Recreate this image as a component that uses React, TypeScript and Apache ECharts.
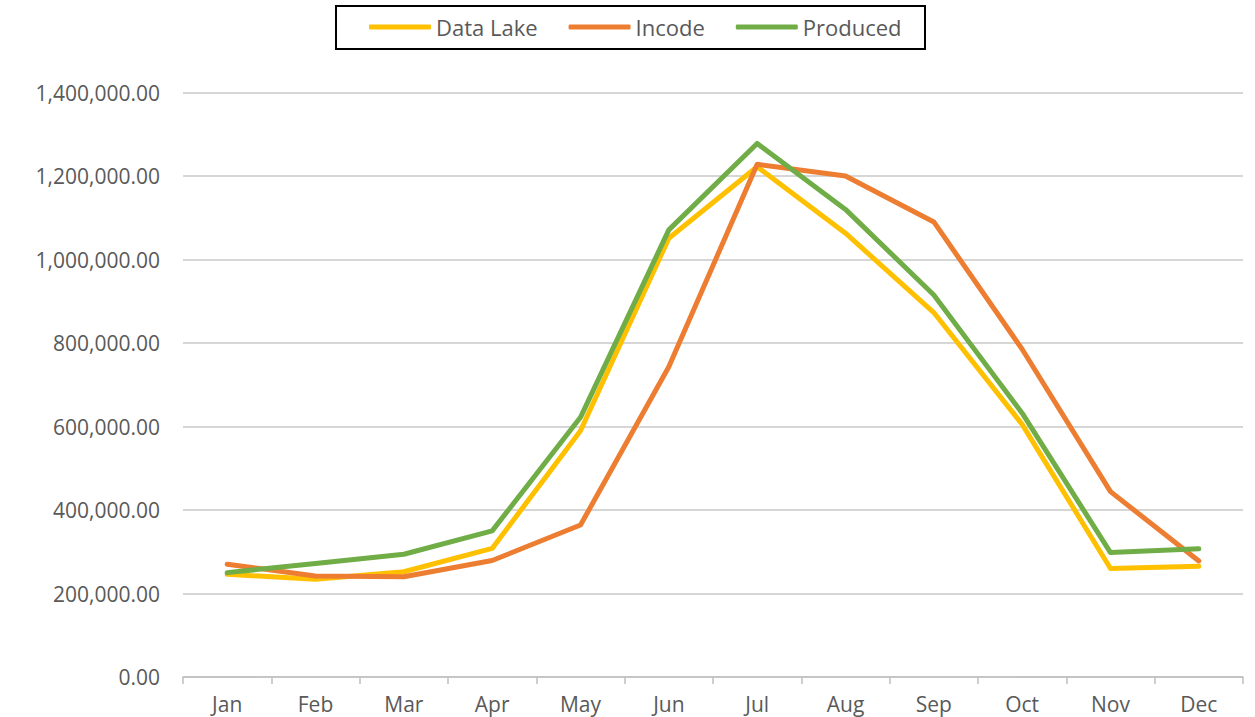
import React, { useEffect, useRef } from "react";
import * as echarts from "echarts";

const categories = ["Jan", "Feb", "Mar", "Apr", "May", "Jun", "Jul", "Aug", "Sep", "Oct", "Nov", "Dec"];
const dataLake = [246000, 234000, 252000, 308000, 590000, 1051000, 1222000, 1063000, 873000, 605000, 260000, 265000];
const incode = [270000, 242000, 240000, 279000, 364000, 743000, 1228000, 1200000, 1090000, 785000, 444000, 278000];
const produced = [250000, 272000, 294000, 350000, 622000, 1071000, 1278000, 1120000, 915000, 632000, 298000, 307000];
const seriesNames = ["Data Lake", "Incode", "Produced"];
const colors = ["#FFC000", "#ED7D31", "#70AD47"];

export default function App() {
  const ref = useRef<HTMLDivElement>(null);
  useEffect(() => {
    if (!ref.current) return;
    const chart = echarts.init(ref.current, null, { renderer: "svg" });
    const font = "'Open Sans', 'Noto Sans', sans-serif";
    const mk = (name: string, data: number[], color: string) => ({
      name,
      type: "line",
      data,
      symbol: "none",
      lineStyle: { width: 5, color, cap: "round", join: "round" },
      itemStyle: { color },
    });
    chart.setOption({
      animation: false,
      backgroundColor: "#ffffff",
      textStyle: { fontFamily: font },
      grid: { left: 183, right: 12, top: 92.5, bottom: 40, containLabel: false },
      legend: {
        data: seriesNames,
        left: 364,
        top: 11,
        icon: "roundRect",
        itemWidth: 62,
        itemHeight: 5,
        itemGap: 31,
        textStyle: { fontSize: 22, color: "#595959", fontFamily: font },
      },
      graphic: [
        {
          type: "rect",
          shape: { x: 336, y: 6, width: 589, height: 43 },
          style: { fill: "none", stroke: "#000000", lineWidth: 2 },
          silent: true,
        },
      ],
      xAxis: {
        type: "category",
        data: categories,
        boundaryGap: true,
        axisLine: { show: true, lineStyle: { color: "#BFBFBF", width: 1.5 } },
        axisTick: { show: true, length: 7, lineStyle: { color: "#BFBFBF", width: 1.5 } },
        axisLabel: { fontSize: 21, color: "#595959", margin: 16, fontFamily: font },
      },
      yAxis: {
        type: "value",
        min: 0,
        max: 1400000,
        interval: 200000,
        axisLine: { show: false },
        axisTick: { show: false },
        splitLine: { lineStyle: { color: "#C8C8C8", width: 1.5 } },
        axisLabel: {
          fontSize: 21,
          color: "#595959",
          margin: 23,
          fontFamily: font,
          formatter: (v: number) =>
            v.toLocaleString("en-US", { minimumFractionDigits: 2, maximumFractionDigits: 2 }),
        },
      },
      series: [
        mk(seriesNames[0], dataLake, colors[0]),
        mk(seriesNames[1], incode, colors[1]),
        mk(seriesNames[2], produced, colors[2]),
      ],
    });
    return () => chart.dispose();
  }, []);
  return (
    <div
      ref={ref}
      style={{ position: "absolute", left: 0, top: 0, width: 1255, height: 717, background: "#fff" }}
    />
  );
}
